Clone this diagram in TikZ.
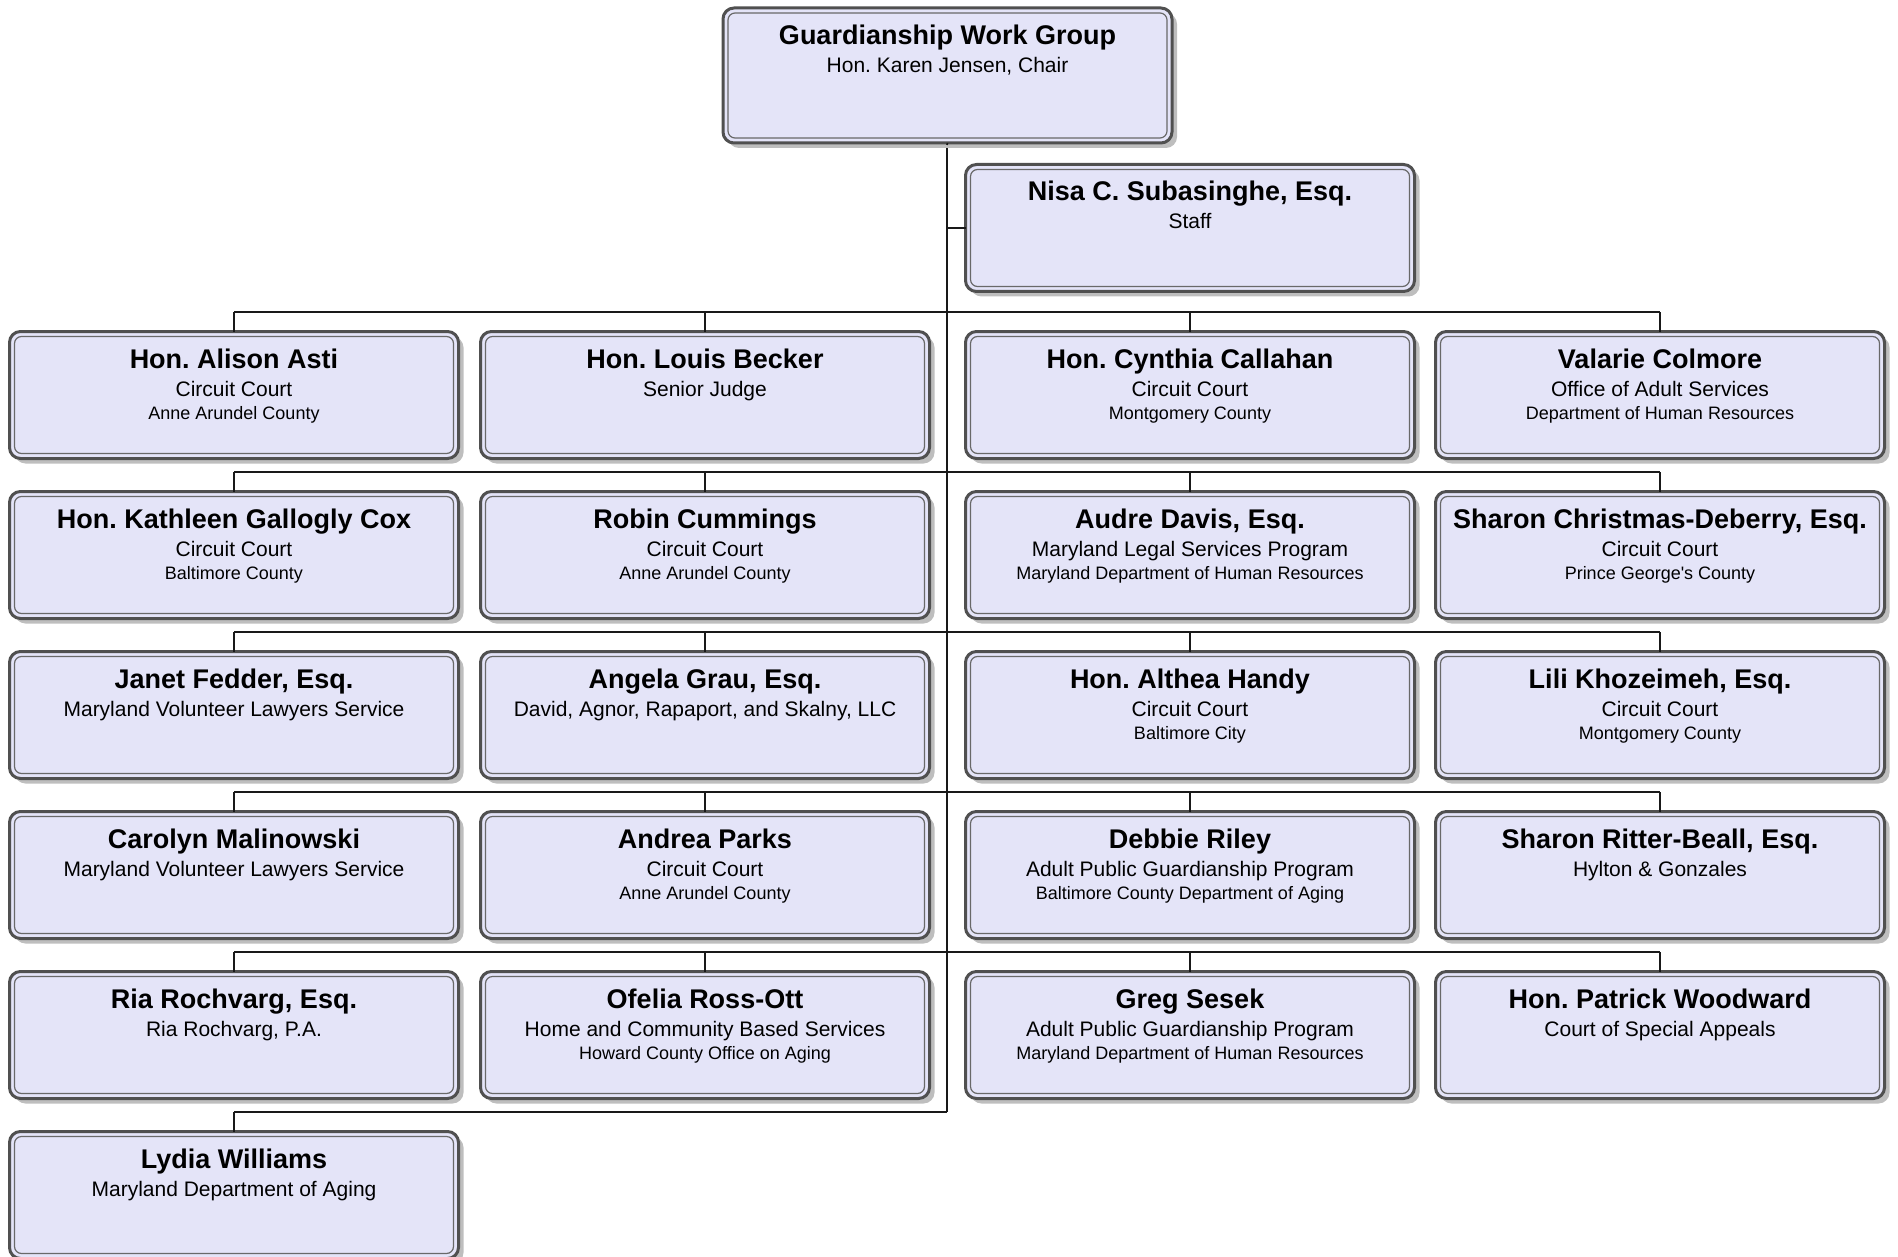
\documentclass[tikz,border=0pt]{standalone}
\usepackage{fontspec}
\newfontfamily\lib{Liberation Sans}
\usetikzlibrary{shadows}
\definecolor{boxfill}{RGB}{228,228,248}
\definecolor{boxedge}{RGB}{80,80,80}
\definecolor{inneredge}{RGB}{105,105,105}
\definecolor{shadowgray}{RGB}{190,190,190}
\frenchspacing
\newcommand\namef{\lib\bfseries\fontsize{27}{30}\selectfont}
\newcommand\subf{\lib\fontsize{21}{24}\selectfont}
\newcommand\smallf{\lib\fontsize{18}{21}\selectfont}
\newcommand\boxtext[4]{\vbox to #1{\offinterlineskip\kern36.5pt\hbox to 449pt{\hss\smash{\namef #2}\hss}\kern28pt\hbox to 449pt{\hss\smash{\subf #3}\hss}\kern23pt\hbox to 449pt{\hss\smash{\smallf #4}\hss}\vss}}
\tikzset{
  orgbox/.style={rounded corners=11pt, draw=boxedge, line width=3pt, fill=boxfill,
    inner sep=0pt, outer sep=0pt, minimum width=449pt,
    drop shadow={shadow xshift=5pt, shadow yshift=-5pt, fill=shadowgray, opacity=1}},
  innerframe/.style={rounded corners=7pt, draw=inneredge, line width=1.2pt},
  link/.style={draw=black!90, line width=1.6pt}
}
\newcommand\orgbox[6][127pt]{%
  \node[orgbox] (#2) at (#3) {\boxtext{#1}{#4}{#5}{#6}};
  \draw[innerframe] ([shift={(5pt,-5pt)}]#2.north west) rectangle ([shift={(-5pt,5pt)}]#2.south east);
}
\begin{document}
\begin{tikzpicture}[x=1pt,y=-1pt]
\useasboundingbox (0,0) rectangle (1898,1257);
% connectors first
\coordinate (trunktop) at (947,145);
\coordinate (j6) at (947,1112);
\draw[link] (trunktop) -- (j6);
\foreach \r/\y in {1/312,2/472,3/632,4/792,5/952}{
  \coordinate (bl\r) at (234,\y);
  \coordinate (br\r) at (1660,\y);
  \draw[link] (bl\r) -- (br\r);
}
\draw[link] (j6) -- (234,1112);
% boxes
\orgbox[135pt]{top}{947.5,75.5}{Guardianship Work Group}{Hon. Karen Jensen, Chair}{}
\orgbox{nisa}{1190,228}{Nisa C. Subasinghe, Esq.}{Staff}{}
\orgbox{c11}{234,395}{Hon. Alison Asti}{Circuit Court}{Anne Arundel County}
\orgbox{c12}{705,395}{Hon. Louis Becker}{Senior Judge}{}
\orgbox{c13}{1190,395}{Hon. Cynthia Callahan}{Circuit Court}{Montgomery County}
\orgbox{c14}{1660,395}{Valarie Colmore}{Office of Adult Services}{Department of Human Resources}
\orgbox{c21}{234,555}{Hon. Kathleen Gallogly Cox}{Circuit Court}{Baltimore County}
\orgbox{c22}{705,555}{Robin Cummings}{Circuit Court}{Anne Arundel County}
\orgbox{c23}{1190,555}{Audre Davis, Esq.}{Maryland Legal Services Program}{Maryland Department of Human Resources}
\orgbox{c24}{1660,555}{Sharon Christmas-Deberry, Esq.}{Circuit Court}{Prince George\textquotesingle s County}
\orgbox{c31}{234,715}{Janet Fedder, Esq.}{Maryland Volunteer Lawyers Service}{}
\orgbox{c32}{705,715}{Angela Grau, Esq.}{David, Agnor, Rapaport, and Skalny, LLC}{}
\orgbox{c33}{1190,715}{Hon. Althea Handy}{Circuit Court}{Baltimore City}
\orgbox{c34}{1660,715}{Lili Khozeimeh, Esq.}{Circuit Court}{Montgomery County}
\orgbox{c41}{234,875}{Carolyn Malinowski}{Maryland Volunteer Lawyers Service}{}
\orgbox{c42}{705,875}{Andrea Parks}{Circuit Court}{Anne Arundel County}
\orgbox{c43}{1190,875}{Debbie Riley}{Adult Public Guardianship Program}{Baltimore County Department of Aging}
\orgbox{c44}{1660,875}{Sharon Ritter-Beall, Esq.}{Hylton \& Gonzales}{}
\orgbox{c51}{234,1035}{Ria Rochvarg, Esq.}{Ria Rochvarg, P.A.}{}
\orgbox{c52}{705,1035}{Ofelia Ross-Ott}{Home and Community Based Services}{Howard County Office on Aging}
\orgbox{c53}{1190,1035}{Greg Sesek}{Adult Public Guardianship Program}{Maryland Department of Human Resources}
\orgbox{c54}{1660,1035}{Hon. Patrick Woodward}{Court of Special Appeals}{}
\orgbox{c61}{234,1195}{Lydia Williams}{Maryland Department of Aging}{}
% stubs
\draw[link] (top.south) -- (trunktop);
\draw[link] (trunktop |- nisa.west) -- (nisa.west);
\foreach \r in {1,...,5}{
  \foreach \c in {1,...,4}{
    \draw[link] (c\r\c.north) -- (c\r\c.north |- bl\r);
  }
}
\draw[link] (c61.north) -- (c61.north |- j6);
\end{tikzpicture}
\end{document}
